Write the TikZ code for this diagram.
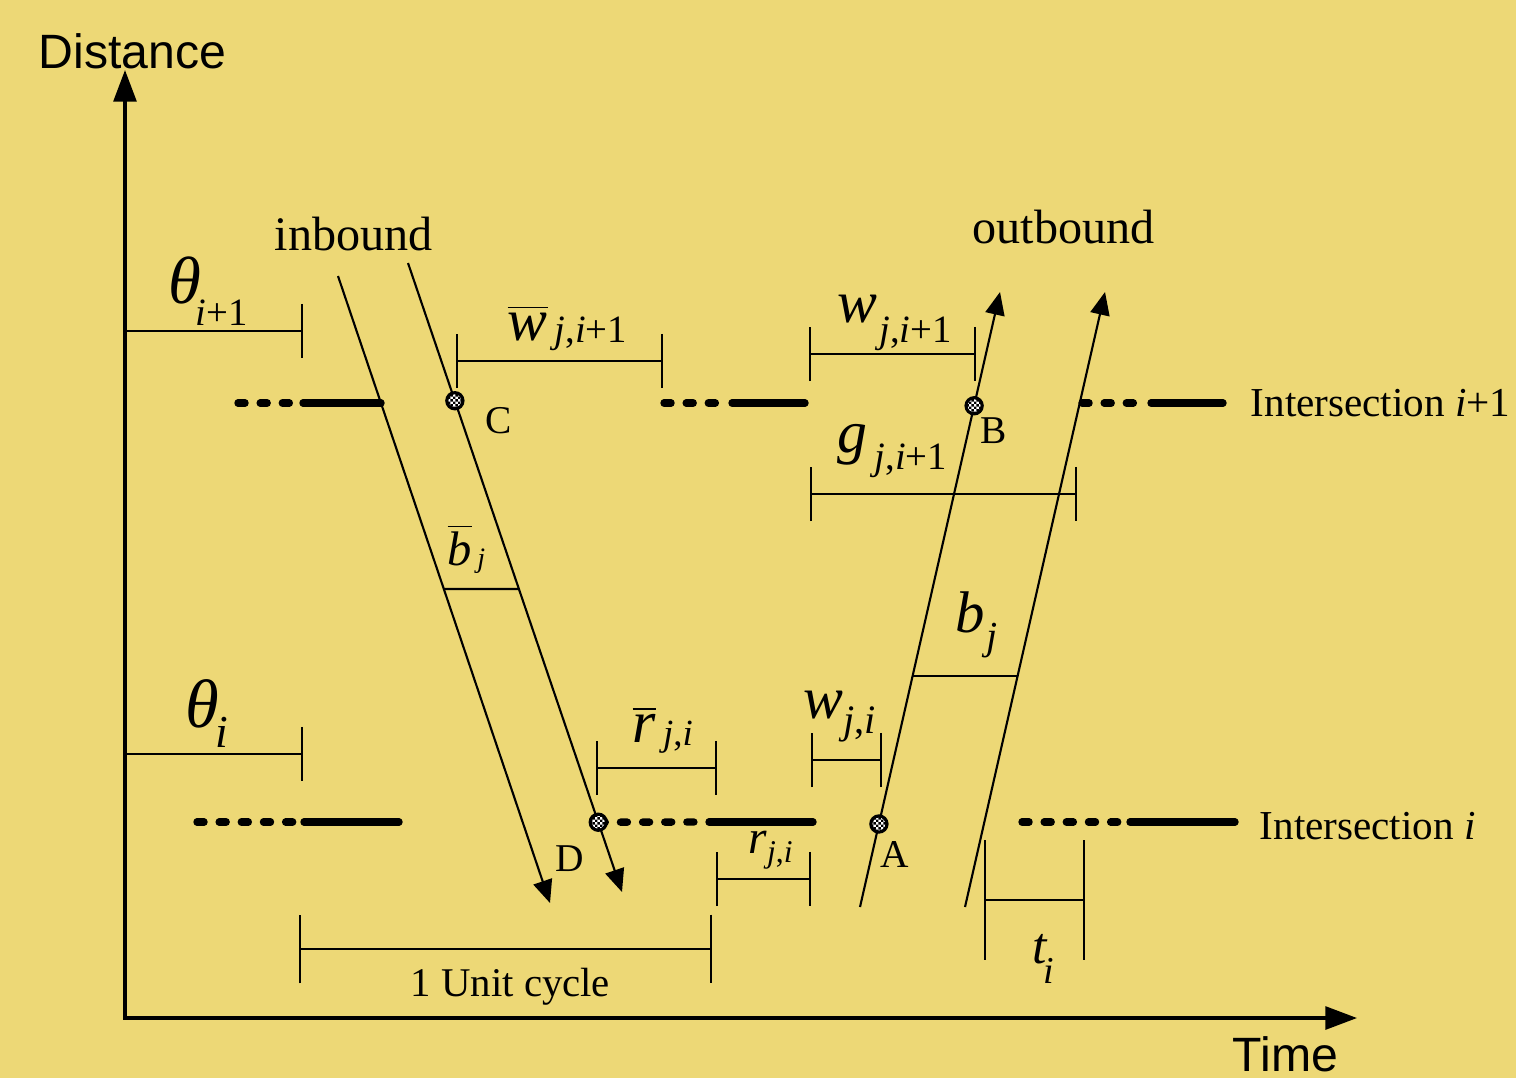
\documentclass[tikz,border=0pt]{standalone}
\usepackage{fontspec}
\setmainfont{Liberation Serif}
\setsansfont{Liberation Sans}
\usetikzlibrary{arrows.meta,calc,patterns.meta}
\definecolor{paper}{RGB}{237,216,118}
\newcommand{\fsz}[1]{\fontsize{#1}{#1}\selectfont}
\newcommand{\lowsub}[3]{\raisebox{#1}{\fsz{#2}#3}}
\newcommand{\ji}{\textit{j},\textit{i}}
\tikzdeclarepattern{
    name=finecheck, type=uncolored,
    bounding box={(0,0) and (1.4pt,1.4pt)},
    tile size={(1.4pt,1.4pt)},
    code={\fill (0,0) rectangle (0.7pt,0.7pt); \fill (0.7pt,0.7pt) rectangle (1.4pt,1.4pt);}
}

\begin{document}
\begin{tikzpicture}[x=0.01cm, y=-0.01cm, >={Triangle[length=6.5pt,width=5.5pt]}]
    \tikzset{
        axis/.style={draw, line width=0.95pt, {Triangle[length=9pt,width=6.5pt]}-{Triangle[length=9pt,width=6.5pt]}},
        traj/.style={draw, line width=0.6pt},
        dim/.style={draw, line width=0.6pt, {Bar[width=#1]}-{Bar[width=#1]}},
        dim/.default=15.4pt,
        sig/.style={draw, line width=2.1pt, line cap=round},
        sigwait/.style={sig, dash pattern=on 2pt off 4.3pt},
        crossing/.style={circle, draw, line width=0.9pt, minimum size=4.6pt, inner sep=0pt},
        lbl/.style={anchor=base west, inner sep=0pt},
        txt/.style={lbl, font=\fsz{11.7}},
        big/.style={lbl, font=\fsz{13.7}},
        axlbl/.style={lbl, font=\sffamily\fsz{13.7}}
    }
    \useasboundingbox (0,0) rectangle (1516,1078);
    \fill[paper] (0,0) rectangle (1516,1078);

    % Axes
    \coordinate (O) at (125,1018);
    \coordinate (ytop) at (125,70);
    \coordinate (xend) at (1357,1018);
    \draw[axis] (ytop) -- (O) -- (xend);
    \node[axlbl] (dist) at (38,68) {Distance};
    \node[axlbl] (time) at (1232,1071) {Time};

    % Inbound trajectories
    \coordinate (in1s) at (338,276);
    \coordinate (in1e) at (550,903);
    \coordinate (in2s) at (408,263);
    \coordinate (in2e) at (622,892);
    \draw[traj, ->] (in1s) -- (in1e);
    \draw[traj, ->] (in2s) -- (in2e);
    \coordinate (C) at ($(in2s)!0.219!(in2e)$);
    \coordinate (D) at ($(in2s)!0.889!(in2e)$);
    \draw[traj] ($(in1s)!0.4992!(in1e)$) -- ($(in2s)!0.5183!(in2e)$);

    % Outbound trajectories
    \coordinate (out1s) at (860,907);
    \coordinate (out1e) at (1000,292);
    \coordinate (out2s) at (965,907);
    \coordinate (out2e) at (1105,292);
    \draw[traj, ->] (out1s) -- (out1e);
    \draw[traj, ->] (out2s) -- (out2e);
    \coordinate (A) at ($(out1s)!0.135!(out1e)$);
    \coordinate (B) at ($(out1s)!0.815!(out1e)$);
    \draw[traj] ($(out1s)!0.3756!(out1e)$) -- ($(out2s)!0.3756!(out2e)$);

    % Signal bars, intersection i+1
    \draw[sigwait] (238,403) -- (296,403);
    \draw[sig] (303,403) -- (381,403);
    \draw[sigwait] (664,403) -- (716,403);
    \draw[sig] (732,403) -- (805,403);
    \draw[sigwait] (1082,403) -- (1134,403);
    \draw[sig] (1151,403) -- (1223,403);
    \node[txt] (intN) at (1250,416) {Intersection \textit{i}+1};

    % Signal bars, intersection i
    \draw[sigwait] (197,822) -- (294,822);
    \draw[sig] (304,822) -- (399,822);
    \draw[sigwait] (D) -- (700,822);
    \draw[sig] (709,822) -- (813,822);
    \draw[sigwait] (1022,822) -- (1120,822);
    \draw[sig] (1130,822) -- (1235,822);
    \node[txt] (intI) at (1259,839) {Intersection \textit{i}};

    % Crossing points
    \foreach \p in {C,D,A,B} {
        \fill[white] (\p) circle (2.3pt);
        \node[crossing, pattern={finecheck}] (pt\p) at (\p) {};
    }
    \node[txt, font=\fsz{11.2}] (labC) at (485,433) {C};
    \node[txt, font=\fsz{11.2}] (labB) at (980,443) {B};
    \node[txt, font=\fsz{11.2}] (labA) at (880,867) {A};
    \node[txt, font=\fsz{11.2}] (labD) at (555,871) {D};

    \node[big] (inb) at (274,250) {inbound};
    \node[big] (outb) at (972,243) {outbound};

    % Dimension brackets
    \draw[dim] (125,331) -- (303,331);
    \draw[dim] (125,754) -- (303,754);
    \draw[dim] (456,361) -- (663,361);
    \draw[dim] (809,354) -- (976,354);
    \draw[dim] (810,494) -- (1077,494);
    \draw[dim] (596,768) -- (717,768);
    \draw[dim] (811,760) -- (882,760);
    \draw[dim] (716,879) -- (811,879);
    \draw[dim=19.6pt] (299,949) -- (712,949);
    \draw[dim=34pt] (984,900) -- (1085,900);
    \node[txt, font=\fsz{11.6}] (cyc) at (410,996) {1 Unit cycle};

    % Labels of the quantities
    \node[lbl] (thN) at (168,303) {\fsz{19}\itshape θ\kern-1.7pt\lowsub{-6.3pt}{11}{\itshape i\upshape +1}};
    \node[lbl] (thI) at (185,727) {\fsz{19.5}\itshape θ\kern-1.2pt\lowsub{-5.7pt}{13}{\itshape i}};
    \node[lbl] (wbN) at (507,340) {\fsz{17}$\overline{\hbox{\itshape w}}$\kern2pt\lowsub{-0.6pt}{11}{\ji+1}};
    \node[lbl] (wN) at (837,322) {\fsz{17}\itshape w\kern0.5pt\lowsub{-5.7pt}{11}{\upshape\ji+1}};
    \node[lbl] (gN) at (837,452) {\fsz{17}\itshape g\kern2pt\lowsub{-5pt}{11}{\upshape\ji+1}};
    \node[lbl] (bOut) at (955,632) {\fsz{16.7}\itshape b\kern0.5pt\lowsub{-5.1pt}{11.3}{j}};
    \node[lbl] (bIn) at (447,565) {\fsz{13.8}$\overline{\hbox{\itshape b}}$\kern1.5pt\lowsub{-0.6pt}{8}{\itshape j}};
    \node[lbl] (rbI) at (632,742) {\fsz{17}$\overline{\hbox{\itshape r}}$\kern2pt\lowsub{-1pt}{10.5}{\ji}};
    \node[lbl] (wI) at (803,718) {\fsz{17}\itshape w\kern0pt\lowsub{-4.3pt}{11.5}{\upshape\ji}};
    \node[lbl] (rI) at (748,853) {\fsz{13.5}\itshape r\kern0pt\lowsub{-2.8pt}{9}{\upshape\ji}};
    \node[lbl] (tI) at (1032,963) {\fsz{14.7}\itshape t\kern-1pt\lowsub{-5.7pt}{10.8}{i}};
\end{tikzpicture}
\end{document}
